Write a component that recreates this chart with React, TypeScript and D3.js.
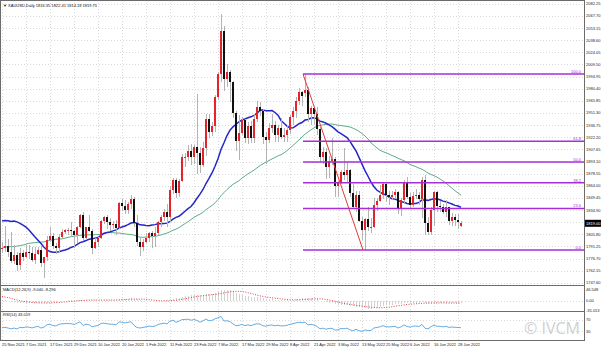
import React from "react";
import * as d3 from "d3";

// ---------- DATA ----------
const DATES = [
  "25 Nov 2021","26 Nov 2021","29 Nov 2021","30 Nov 2021","1 Dec 2021","2 Dec 2021","3 Dec 2021","6 Dec 2021","7 Dec 2021","8 Dec 2021",
  "9 Dec 2021","10 Dec 2021","13 Dec 2021","14 Dec 2021","15 Dec 2021","16 Dec 2021","17 Dec 2021","20 Dec 2021","21 Dec 2021","22 Dec 2021",
  "23 Dec 2021","24 Dec 2021","27 Dec 2021","28 Dec 2021","29 Dec 2021","30 Dec 2021","31 Dec 2021","3 Jan 2022","4 Jan 2022","5 Jan 2022",
  "6 Jan 2022","7 Jan 2022","10 Jan 2022","11 Jan 2022","12 Jan 2022","13 Jan 2022","14 Jan 2022","17 Jan 2022","18 Jan 2022","19 Jan 2022",
  "20 Jan 2022","21 Jan 2022","24 Jan 2022","25 Jan 2022","26 Jan 2022","27 Jan 2022","28 Jan 2022","31 Jan 2022","1 Feb 2022","2 Feb 2022",
  "3 Feb 2022","4 Feb 2022","7 Feb 2022","8 Feb 2022","9 Feb 2022","10 Feb 2022","11 Feb 2022","14 Feb 2022","15 Feb 2022","16 Feb 2022",
  "17 Feb 2022","18 Feb 2022","21 Feb 2022","22 Feb 2022","23 Feb 2022","24 Feb 2022","25 Feb 2022","28 Feb 2022","1 Mar 2022","2 Mar 2022",
  "3 Mar 2022","4 Mar 2022","7 Mar 2022","8 Mar 2022","9 Mar 2022","10 Mar 2022","11 Mar 2022","14 Mar 2022","15 Mar 2022","16 Mar 2022",
  "17 Mar 2022","18 Mar 2022","21 Mar 2022","22 Mar 2022","23 Mar 2022","24 Mar 2022","25 Mar 2022","28 Mar 2022","29 Mar 2022","30 Mar 2022",
  "31 Mar 2022","1 Apr 2022","4 Apr 2022","5 Apr 2022","6 Apr 2022","7 Apr 2022","8 Apr 2022","11 Apr 2022","12 Apr 2022","13 Apr 2022",
  "14 Apr 2022","18 Apr 2022","19 Apr 2022","20 Apr 2022","21 Apr 2022","22 Apr 2022","25 Apr 2022","26 Apr 2022","27 Apr 2022","28 Apr 2022",
  "29 Apr 2022","2 May 2022","3 May 2022","4 May 2022","5 May 2022","6 May 2022","9 May 2022","10 May 2022","11 May 2022","12 May 2022",
  "13 May 2022","16 May 2022","17 May 2022","18 May 2022","19 May 2022","20 May 2022","23 May 2022","24 May 2022","25 May 2022","26 May 2022",
  "27 May 2022","30 May 2022","31 May 2022","1 Jun 2022","2 Jun 2022","3 Jun 2022","6 Jun 2022","7 Jun 2022","8 Jun 2022","9 Jun 2022",
  "10 Jun 2022","13 Jun 2022","14 Jun 2022","15 Jun 2022","16 Jun 2022","17 Jun 2022","20 Jun 2022","21 Jun 2022","22 Jun 2022","23 Jun 2022",
  "24 Jun 2022","27 Jun 2022","28 Jun 2022","29 Jun 2022",
];

const OPEN = [
  1789,1789,1792,1785,1774,1781,1769,1783,1779,1785,
  1783,1775,1782,1787,1771,1778,1799,1804,1792,1789,
  1803,1809,1811,1811,1810,1805,1815,1829,1801,1814,
  1810,1789,1797,1801,1822,1826,1821,1817,1818,1813,
  1843,1840,1835,1842,1848,1819,1797,1791,1796,1801,
  1807,1804,1807,1820,1826,1833,1827,1859,1871,1855,
  1870,1898,1898,1906,1898,1910,1903,1889,1909,1944,
  1928,1936,1970,1998,2050,1992,2000,1988,1951,1918,
  1927,1943,1921,1936,1921,1944,1958,1954,1923,1919,
  1933,1937,1925,1933,1923,1925,1931,1946,1954,1966,
  1977,1975,1979,1950,1957,1950,1932,1898,1905,1886,
  1894,1896,1864,1868,1881,1877,1883,1855,1838,1853,
  1822,1811,1824,1815,1815,1841,1846,1853,1866,1853,
  1850,1853,1856,1837,1847,1869,1851,1841,1852,1853,
  1848,1871,1819,1809,1835,1857,1840,1839,1832,1838,
  1822,1827,1823,1816,
];
const HIGH = [
  1796,1816,1800,1808,1793,1784,1789,1787,1793,1793,
  1790,1791,1791,1792,1779,1804,1815,1807,1795,1806,
  1812,1812,1813,1820,1811,1816,1830,1832,1815,1829,
  1812,1801,1803,1823,1828,1829,1825,1822,1823,1845,
  1848,1847,1845,1853,1850,1829,1802,1800,1807,1809,
  1810,1814,1822,1829,1836,1842,1864,1873,1873,1872,
  1902,1903,1913,1914,1913,1974,1910,1917,1950,1950,
  1941,1973,2001,2070,2056,2010,2003,1990,1954,1949,
  1946,1944,1940,1942,1950,1966,1965,1956,1928,1939,
  1950,1942,1937,1945,1933,1937,1949,1958,1970,1981,
  1978,1998,1982,1960,1959,1958,1934,1911,1909,1900,
  1921,1898,1870,1883,1909,1893,1884,1866,1858,1858,
  1826,1825,1838,1825,1849,1849,1865,1869,1869,1858,
  1858,1860,1858,1849,1871,1874,1855,1857,1860,1856,
  1875,1877,1827,1838,1858,1858,1846,1842,1847,1839,
  1831,1830,1830,1822,
];
const LOW = [
  1783,1785,1778,1771,1770,1762,1763,1774,1777,1776,
  1772,1770,1781,1767,1753,1774,1796,1788,1782,1784,
  1801,1806,1805,1802,1789,1795,1813,1798,1799,1808,
  1782,1788,1790,1800,1818,1812,1810,1812,1805,1812,
  1834,1830,1830,1836,1815,1792,1780,1786,1795,1797,
  1789,1791,1805,1814,1822,1815,1821,1854,1849,1850,
  1868,1886,1894,1889,1890,1878,1879,1886,1900,1921,
  1924,1929,1967,1989,1978,1983,1965,1945,1906,1895,
  1925,1915,1914,1915,1915,1940,1948,1914,1890,1915,
  1927,1916,1916,1920,1916,1917,1926,1937,1945,1961,
  1960,1970,1941,1937,1937,1925,1891,1890,1872,1873,
  1889,1850,1851,1866,1871,1869,1850,1836,1832,1821,
  1799,1787,1810,1807,1813,1834,1845,1848,1845,1841,
  1847,1848,1830,1828,1842,1848,1837,1838,1848,1841,
  1825,1805,1805,1805,1816,1832,1833,1830,1827,1817,
  1816,1816,1812,1814,
];
const CLOSE = [
  1789,1792,1785,1774,1781,1769,1783,1779,1785,1783,
  1775,1782,1787,1771,1778,1799,1804,1792,1789,1803,
  1809,1811,1811,1810,1805,1815,1829,1801,1814,1810,
  1789,1797,1801,1822,1826,1821,1817,1818,1813,1843,
  1840,1835,1842,1848,1819,1797,1791,1796,1801,1807,
  1804,1807,1820,1826,1833,1827,1859,1871,1855,1870,
  1898,1898,1906,1898,1910,1903,1889,1909,1944,1928,
  1936,1970,1998,2050,1992,2000,1988,1951,1918,1927,
  1943,1921,1936,1921,1944,1958,1954,1923,1919,1933,
  1937,1925,1933,1923,1925,1931,1946,1954,1966,1977,
  1972,1979,1950,1957,1950,1932,1898,1905,1886,1894,
  1896,1864,1868,1881,1877,1883,1855,1838,1853,1822,
  1811,1824,1815,1815,1841,1846,1853,1866,1853,1850,
  1853,1856,1837,1847,1869,1851,1841,1852,1853,1848,
  1871,1819,1809,1835,1857,1840,1839,1832,1838,1822,
  1827,1823,1820,1819,
];

// closes before the first visible bar (17 Sep – 24 Nov 2021), used by the indicators
const HIST_CLOSE = [
  1754,1764,1774,1768,1743,1750,1750,1734,1726,1756,
  1761,1769,1760,1763,1756,1757,1754,1760,1793,1796,1768,1765,1769,1782,1784,1793,1807,1793,1798,1799,1783,
  1793,1788,1769,1792,1818,1824,1832,1849,1862,1865,1864,1851,1868,1860,1846,1806,1790,1789,
];

const DATE_LABELS = [
  "25 Nov 2021","7 Dec 2021","17 Dec 2021","29 Dec 2021","10 Jan 2022","20 Jan 2022","1 Feb 2022",
  "11 Feb 2022","23 Feb 2022","7 Mar 2022","17 Mar 2022","29 Mar 2022","8 Apr 2022","21 Apr 2022",
  "3 May 2022","13 May 2022","25 May 2022","6 Jun 2022","16 Jun 2022","28 Jun 2022",
];

const PRICE_TICKS = [
  2082.25,2067.70,2053.15,2038.60,2024.05,2009.50,1994.95,1980.40,1965.85,1951.30,
  1936.75,1922.20,1907.65,1893.10,1878.55,1864.00,1849.45,1834.90,1820.35,1805.80,
  1791.25,1776.70,1762.15,1747.60,
];

const FIB_LEVELS = [0, 23.6, 38.2, 50, 61.8, 100];
const FIB_HIGH_DATE = "18 Apr 2022";
const FIB_LOW_DATE = "16 May 2022";

const MACD_TICKS = [46.548, 0, -35.013];
const RSI_TICKS = [70, 30];

const TITLE = "XAUUSD,Daily  1816.35 1822.41 1814.18 1819.75";
const MACD_TITLE = "MACD(12,26,9) -9.040 -8.296";
const RSI_TITLE = "RSI(14) 43.019";

// ---------- COMPONENT ----------
export default function App() {
  const W = 601, H = 351;
  const PR = 584; // right edge of plot
  const MAIN_T = 2, MAIN_B = 285;
  const MACD_T = 286, MACD_B = 311;
  const RSI_T = 311, RSI_B = 340;
  const font = "'Liberation Sans', Arial, sans-serif";
  const fs = 4;

  const n = CLOSE.length;
  const x = d3.scaleLinear().domain([0, n - 1]).range([2, 2 + 3 * (n - 1)]);
  const y = d3.scaleLinear().domain([1745.0, 2084.4]).range([MAIN_B, MAIN_T]);

  const all = HIST_CLOSE.concat(CLOSE);
  const off = HIST_CLOSE.length;
  const sma = (p: number) =>
    CLOSE.map((_, i) => d3.mean(all.slice(Math.max(0, i + off - p + 1), i + off + 1)) as number);
  const ma20 = sma(20);
  const ma50 = sma(50);

  const ema = (p: number) => {
    const k = 2 / (p + 1);
    const out: number[] = [];
    let e = all[0];
    all.forEach((v, i) => {
      e = i === 0 ? v : v * k + e * (1 - k);
      out.push(e);
    });
    return out;
  };
  const e12 = ema(12), e26 = ema(26);
  const macdAll = all.map((_, i) => e12[i] - e26[i]);
  const sigAll = macdAll.map((_, i) => d3.mean(macdAll.slice(Math.max(0, i - 8), i + 1)) as number);
  const macd = macdAll.slice(off);
  const sig = sigAll.slice(off);

  // RSI (Wilder)
  const rsiAll: number[] = [];
  let ag = 0, al = 0;
  for (let i = 1; i < all.length; i++) {
    const ch = all[i] - all[i - 1];
    const g = Math.max(ch, 0), l = Math.max(-ch, 0);
    if (i <= 14) {
      ag += g / 14; al += l / 14;
    } else {
      ag = (ag * 13 + g) / 14; al = (al * 13 + l) / 14;
    }
    rsiAll[i] = al === 0 ? 100 : 100 - 100 / (1 + ag / al);
  }
  const rsi = rsiAll.slice(off);

  const ym = d3.scaleLinear().domain([-35.013, 46.548]).range([MACD_B - 1, MACD_T + 3]);
  const yr = d3.scaleLinear().domain([0, 100]).range([RSI_B, RSI_T]);

  const line = (vals: number[], sc: (v: number) => number) =>
    d3.line<number>().x((_, i) => x(i)).y((d) => sc(d)).curve(d3.curveLinear)(vals) || "";

  const hiIdx = DATES.indexOf(FIB_HIGH_DATE);
  const loIdx = DATES.indexOf(FIB_LOW_DATE);
  const fibHi = HIGH[hiIdx], fibLo = LOW[loIdx];
  const fibColor = "#a52fd6";

  const last = CLOSE[n - 1];

  return (
    <svg
      width={W}
      height={H}
      style={{ position: "fixed", left: 0, top: 0, background: "#fff" }}
      fontFamily={font}
    >
      <rect x={0} y={0} width={W} height={H} fill="#fff" />
      {/* grid */}
      <g stroke="#d9d9d9" strokeWidth={1} strokeDasharray="1,2" shapeRendering="crispEdges">
        {PRICE_TICKS.map((p) => (
          <line key={"gp" + p} x1={0} x2={PR} y1={Math.round(y(p)) + 0.5} y2={Math.round(y(p)) + 0.5} />
        ))}
        {DATE_LABELS.map((d) => {
          const xi = Math.round(x(DATES.indexOf(d))) + 0.5;
          return <line key={"gd" + d} x1={xi} x2={xi} y1={0} y2={RSI_B} />;
        })}
        <line x1={0} x2={PR} y1={Math.round(ym(0)) + 0.5} y2={Math.round(ym(0)) + 0.5} />
        {RSI_TICKS.map((t) => (
          <line key={"gr" + t} x1={0} x2={PR} y1={Math.round(yr(t)) + 0.5} y2={Math.round(yr(t)) + 0.5} />
        ))}
      </g>

      {/* moving averages */}
      <path d={line(ma50, y)} fill="none" stroke="#5dae88" strokeWidth={1} />
      <path d={line(ma20, y)} fill="none" stroke="#2626c9" strokeWidth={1.5} />

      {/* candles */}
      <g shapeRendering="crispEdges">
        {CLOSE.map((c, i) => {
          const o = OPEN[i];
          const up = c >= o;
          const xc = Math.round(x(i));
          const top = y(Math.max(o, c));
          const bot = y(Math.min(o, c));
          return (
            <g key={"c" + i}>
              <rect x={xc} y={y(HIGH[i])} width={1} height={Math.max(1, y(LOW[i]) - y(HIGH[i]))} fill="#b4b4b4" />
              <rect
                x={xc - 1}
                y={top}
                width={2.4}
                height={Math.max(1, bot - top)}
                fill={up ? "#e5232a" : "#111"}
              />
            </g>
          );
        })}
      </g>

      {/* fibonacci */}
      {FIB_LEVELS.map((lv) => {
        const p = fibLo + ((fibHi - fibLo) * lv) / 100;
        const yy = y(p);
        return (
          <g key={"f" + lv}>
            <line x1={x(hiIdx) - 2} x2={PR} y1={yy} y2={yy} stroke={fibColor} strokeWidth={1.6} />
            <text x={PR - 3} y={yy - 1.2} fontSize={fs} fill={fibColor} textAnchor="end">
              {lv.toFixed(1)}
            </text>
          </g>
        );
      })}
      <line x1={x(hiIdx) - 2} y1={y(fibHi)} x2={x(loIdx) - 2} y2={y(fibLo)} stroke="#e23a3a" strokeWidth={1} />

      {/* MACD panel */}
      <g shapeRendering="crispEdges">
        {macd.map((v, i) => {
          const y0 = ym(0), y1 = ym(v);
          return (
            <rect
              key={"m" + i}
              x={Math.round(x(i)) - 0.5}
              y={Math.min(y0, y1)}
              width={1.5}
              height={Math.max(0.5, Math.abs(y1 - y0))}
              fill="#d2d2d2"
            />
          );
        })}
      </g>
      <path d={line(sig, ym)} fill="none" stroke="#e0444c" strokeWidth={1} strokeDasharray="1,1.5" />

      {/* RSI panel */}
      <path d={line(rsi, yr)} fill="none" stroke="#6aaee3" strokeWidth={1} />

      {/* watermark */}
      <text x={524} y={334} fontSize={16} fill="#cfcfcf" fontFamily="'Open Sans', sans-serif">
        © IVCM
      </text>

      {/* frame */}
      <g stroke="#6b6b6b" strokeWidth={1} shapeRendering="crispEdges">
        <line x1={PR + 0.5} x2={PR + 0.5} y1={0} y2={RSI_B + 1} />
        <line x1={0} x2={PR} y1={MAIN_B + 0.5} y2={MAIN_B + 0.5} />
        <line x1={0} x2={PR} y1={RSI_T + 0.5} y2={RSI_T + 0.5} />
        <line x1={0} x2={PR} y1={RSI_B + 0.5} y2={RSI_B + 0.5} />
        <line x1={0.5} x2={0.5} y1={0} y2={RSI_B} />
        <line x1={0} x2={PR} y1={0.5} y2={0.5} />
      </g>

      {/* titles */}
      <text x={3} y={6.5} fontSize={fs} fill="#111">
        {"▼ " + TITLE}
      </text>
      <text x={3} y={MACD_T + 5} fontSize={fs} fill="#111">
        {MACD_TITLE}
      </text>
      <text x={3} y={RSI_T + 5} fontSize={fs} fill="#111">
        {RSI_TITLE}
      </text>

      {/* price axis */}
      {PRICE_TICKS.map((p) => (
        <text key={"pt" + p} x={PR + 2} y={y(p) + 1.5} fontSize={fs} fill="#222">
          {p.toFixed(2)}
        </text>
      ))}
      {MACD_TICKS.map((t) => (
        <text key={"mt" + t} x={PR + 2} y={ym(t) + 1.5} fontSize={fs} fill="#222">
          {t === 0 ? "0.00" : t.toFixed(3)}
        </text>
      ))}
      {RSI_TICKS.map((t) => (
        <text key={"rt" + t} x={PR + 2} y={yr(t) + 1.5} fontSize={fs} fill="#222">
          {t}
        </text>
      ))}

      {/* current price */}
      <rect x={PR + 1} y={y(last) - 3.5} width={16} height={7} fill="#000" />
      <text x={PR + 2} y={y(last) + 1.5} fontSize={fs} fill="#fff">
        {last.toFixed(2)}
      </text>

      {/* date axis */}
      {DATE_LABELS.map((d) => (
        <text key={"dl" + d} x={x(DATES.indexOf(d))} y={RSI_B + 6} fontSize={fs} fill="#222">
          {d}
        </text>
      ))}
    </svg>
  );
}
